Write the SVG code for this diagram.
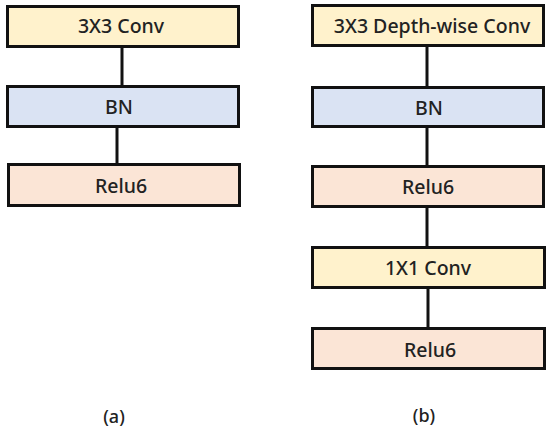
<svg xmlns="http://www.w3.org/2000/svg" width="550" height="431" viewBox="0 0 550 431">
<style>
.box{stroke:#111;stroke-width:3}
.y{fill:#FFF2CC}.b{fill:#DAE3F3}.p{fill:#FBE5D6}
.t{font-family:"Noto Sans","Open Sans",sans-serif;font-size:19.5px;fill:#222;text-anchor:middle;font-weight:500}
.c{stroke:#111;stroke-width:3;fill:none}
</style>
<rect width="550" height="431" fill="#fff"/>
<g id="connectors">
<line class="c" x1="122" y1="47" x2="122" y2="86"/>
<line class="c" x1="117" y1="127" x2="117" y2="164"/>
<line class="c" x1="427" y1="46" x2="427" y2="87"/>
<line class="c" x1="427" y1="127" x2="427" y2="167"/>
<line class="c" x1="427" y1="207" x2="427" y2="247"/>
<line class="c" x1="428" y1="287" x2="428" y2="328"/>
</g>
<g id="a-conv"><rect class="box y" x="7.5" y="6.5" width="231" height="40"/><text class="t" x="121" y="33">3X3 Conv</text></g>
<g id="a-bn"><rect class="box b" x="7.5" y="86.5" width="231" height="40"/><text class="t" x="119" y="114">BN</text></g>
<g id="a-relu"><rect class="box p" x="8.5" y="164.5" width="231" height="41"/><text class="t" x="121" y="193">Relu6</text></g>
<g id="b-dwconv"><rect class="box y" x="312.5" y="5.5" width="231" height="40"/><text class="t" x="432" y="33">3X3 Depth-wise Conv</text></g>
<g id="b-bn"><rect class="box b" x="312.5" y="87.5" width="231" height="39"/><text class="t" x="429" y="115">BN</text></g>
<g id="b-relu1"><rect class="box p" x="312.5" y="166.5" width="231" height="40"/><text class="t" x="428" y="194">Relu6</text></g>
<g id="b-conv1"><rect class="box y" x="312.5" y="247.5" width="232" height="40"/><text class="t" x="428" y="275">1X1 Conv</text></g>
<g id="b-relu2"><rect class="box p" x="312.5" y="328.5" width="232" height="40"/><text class="t" x="430" y="357">Relu6</text></g>
<text class="t" x="114" y="423" style="font-size:18px">(a)</text>
<text class="t" x="424" y="422" style="font-size:18px">(b)</text>
</svg>
